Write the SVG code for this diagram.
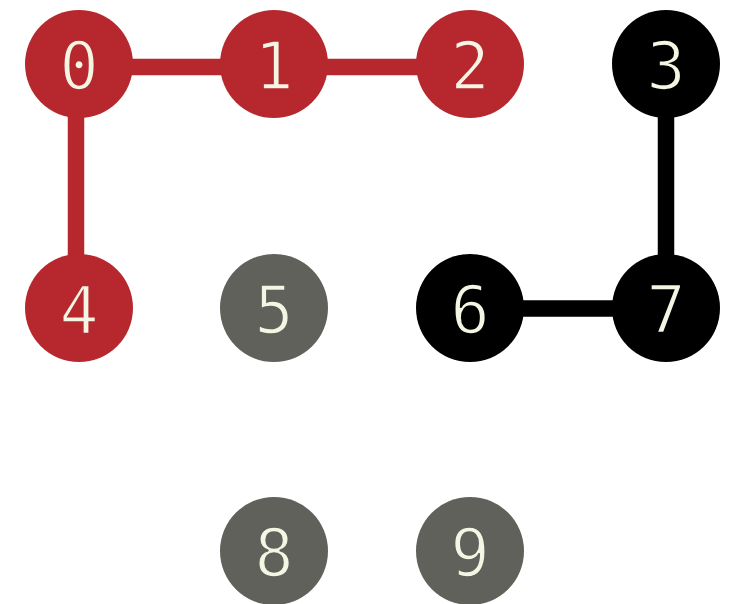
<svg xmlns="http://www.w3.org/2000/svg" width="731" height="604" viewBox="0 0 731 604">
  <style>
    .edge { stroke-width: 16.5; stroke-linecap: butt; fill: none; }
    .red { fill: #b7282e; }
    .redE { stroke: #b7282e; }
    .blk { fill: #000000; }
    .blkE { stroke: #000000; }
    .gry { fill: #60615b; }
    /* labels: a thin stroke in the node colour slims the glyphs a little */
    .lbl { fill: #f5f5e4; font-family: "DejaVu Sans Mono", monospace; font-size: 65px; text-anchor: middle; dominant-baseline: central; stroke-width: 1.6; }
    .onRed { stroke: #b7282e; }
    .onBlk { stroke: #000000; }
    .onGry { stroke: #60615b; }
  </style>
  <rect width="731" height="604" fill="#ffffff"/>
  <g id="edges">
    <line class="edge redE" x1="79" y1="67" x2="274" y2="67"/>
    <line class="edge redE" x1="274" y1="67" x2="470" y2="67"/>
    <line class="edge redE" x1="76" y1="64" x2="76" y2="308"/>
    <line class="edge blkE" x1="666" y1="64" x2="666" y2="308"/>
    <line class="edge blkE" x1="470" y1="308.5" x2="666" y2="308.5"/>
  </g>
  <g id="node0"><circle class="red" cx="79" cy="64" r="54"/><text class="lbl onRed" x="79" y="66">0</text></g>
  <g id="node1"><circle class="red" cx="274" cy="64" r="54"/><text class="lbl onRed" x="274" y="66">1</text></g>
  <g id="node2"><circle class="red" cx="470" cy="64" r="54"/><text class="lbl onRed" x="470" y="66">2</text></g>
  <g id="node3"><circle class="blk" cx="666" cy="64" r="54"/><text class="lbl onBlk" x="666" y="66">3</text></g>
  <g id="node4"><circle class="red" cx="79" cy="308" r="54"/><text class="lbl onRed" x="79" y="310">4</text></g>
  <g id="node5"><circle class="gry" cx="274" cy="308" r="54"/><text class="lbl onGry" x="274" y="310">5</text></g>
  <g id="node6"><circle class="blk" cx="470" cy="308" r="54"/><text class="lbl onBlk" x="470" y="310">6</text></g>
  <g id="node7"><circle class="blk" cx="666" cy="308" r="54"/><text class="lbl onBlk" x="666" y="310">7</text></g>
  <g id="node8"><circle class="gry" cx="274" cy="551" r="54"/><text class="lbl onGry" x="274" y="553">8</text></g>
  <g id="node9"><circle class="gry" cx="470" cy="551" r="54"/><text class="lbl onGry" x="470" y="553">9</text></g>
</svg>
